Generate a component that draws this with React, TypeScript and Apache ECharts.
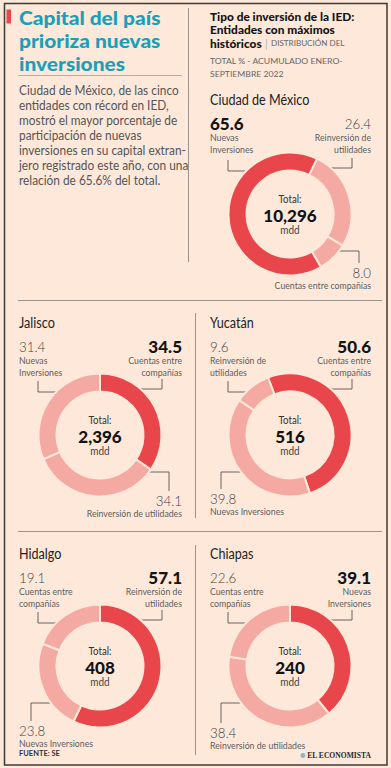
import React, { useEffect, useRef } from "react";
import * as echarts from "echarts";

// ---------- data ----------
const entities = ["Ciudad de México", "Jalisco", "Yucatán", "Hidalgo", "Chiapas"];
const totals = ["10,296", "2,396", "516", "408", "240"];
const categories = ["Nuevas Inversiones", "Reinversión de utilidades", "Cuentas entre compañías"];
const categoryLines = [
  ["Nuevas", "Inversiones"],
  ["Reinversión de", "utilidades"],
  ["Cuentas entre", "compañías"],
];
const nuevas = [65.6, 31.4, 39.8, 23.8, 39.1];
const reinversion = [26.4, 34.1, 9.6, 57.1, 38.4];
const cuentas = [8.0, 34.5, 50.6, 19.1, 22.6];

const titleLines = ["Capital del país", "prioriza nuevas", "inversiones"];
const bodyLines = [
  "Ciudad de México, de las cinco",
  "entidades con récord en IED,",
  "mostró el mayor porcentaje de",
  "participación de nuevas",
  "inversiones en su capital extran-",
  "jero registrado este año, con una",
  "relación de 65.6% del total.",
];
const chartTitle = ["Tipo de inversión de la IED:", "Entidades con máximos", "históricos"];
const chartSub = ["DISTRIBUCIÓN DEL", "TOTAL % - ACUMULADO ENERO-", "SEPTIEMBRE 2022"];
const source = "FUENTE: SE";
const brand = "EL ECONOMISTA";

// slice order (category index) and start angle (deg clockwise from 12 o'clock)
const sliceOrder = [[1, 2, 0], [2, 1, 0], [2, 0, 1], [1, 0, 2], [0, 1, 2]];
const sliceStart = [26, 0, -21, 0, 0];
// label slots per category
const labelSlots = [
  ["TL", "TR", "BR"],
  ["TL", "BR", "TR"],
  ["BL", "TL", "TR"],
  ["BL", "TR", "TL"],
  ["TR", "BL", "TL"],
];

// ---------- layout ----------
const panels = [
  { cx: 290, cy: 214, left: 210, right: 371, titleY: 99, bottom: 58 },
  { cx: 100, cy: 435, left: 19, right: 182, titleY: 322, bottom: 65 },
  { cx: 290, cy: 435, left: 210, right: 371, titleY: 322, bottom: 63 },
  { cx: 100, cy: 666, left: 19, right: 182, titleY: 553, bottom: 64 },
  { cx: 290, cy: 666, left: 210, right: 371, titleY: 553, bottom: 66 },
];

const BG = "#fde8d9";
const RED = "#e8464b";
const PINK = "#f4aaa2";
const TEAL = "#1a9fb9";
const FONT = "Lato";
const LINE = "#9c938c";

function T(x: number, y: number, text: string, o: any = {}) {
  return {
    type: "text",
    x,
    y,
    scaleX: o.sx ?? 1,
    silent: true,
    style: {
      text,
      x: 0,
      y: 0,
      fill: o.fill ?? "#555",
      fontSize: o.size ?? 10,
      fontWeight: o.weight ?? 400,
      fontFamily: o.family ?? FONT,
      align: o.align ?? "left",
      verticalAlign: o.va ?? "middle",
      lineHeight: o.lh,
      rich: o.rich,
    },
  };
}
function L(x1: number, y1: number, x2: number, y2: number, stroke = LINE, w = 1) {
  return { type: "line", silent: true, shape: { x1, y1, x2, y2 }, style: { stroke, lineWidth: w } };
}
function P(points: number[][]) {
  return { type: "polyline", silent: true, shape: { points }, style: { stroke: "#555", lineWidth: 0.9, fill: null } };
}

function buildOption() {
  const g: any[] = [];
  // frame
  g.push({ type: "rect", silent: true, shape: { x: 4.5, y: 3.5, width: 382.5, height: 761.5 }, style: { fill: null, stroke: "#3e3a38", lineWidth: 1.5 } });
  g.push({ type: "rect", silent: true, shape: { x: 6.5, y: 9.5, width: 4.5, height: 14 }, style: { fill: RED } });
  // title
  g.push(T(19, 17.5 - 11.4, titleLines.join("\n"), { size: 19, weight: 900, fill: TEAL, lh: 22.8, va: "top", sx: 1.1 }));
  g.push(L(18, 75.5, 182, 75.5, "#b3b0ad", 1));
  g.push(T(19, 90.2 - 7.55, bodyLines.join("\n"), { size: 12.5, fill: "#555", sx: 0.95, lh: 15.1, va: "top" }));
  // dividers
  g.push(L(188.5, 8, 188.5, 262));
  g.push(L(18, 300.5, 382, 300.5));
  g.push(L(195.5, 313, 195.5, 518));
  g.push(L(18, 531.5, 382, 531.5));
  g.push(L(195.5, 545, 195.5, 755));
  // right title (rich)
  const titleRich = {
    b: { fontSize: 11, fontWeight: 900, fill: "#151515", fontFamily: FONT, lineHeight: 13.3 },
    bar: { fontSize: 11, fontWeight: 300, fill: "#8a8a8a", fontFamily: FONT, lineHeight: 13.3 },
    s: { fontSize: 7.5, fontWeight: 400, fill: "#666", fontFamily: FONT, lineHeight: 13.3 },
  };
  const titleText =
    `{b|${chartTitle[0]}}\n{b|${chartTitle[1]}}\n{b|${chartTitle[2]}}{bar| | }{s|${chartSub[0]}}`;
  g.push(T(210, 16.7 - 6.65, titleText, { rich: titleRich, va: "top", sx: 1.08 }));
  g.push(T(210, 61.3 - 6.35, `${chartSub[1]}\n${chartSub[2]}`, { size: 8, fill: "#666", sx: 1.08, lh: 12.7, va: "top" }));

  const series: any[] = [];
  entities.forEach((name, i) => {
    const p = panels[i];
    const vals = [nuevas[i], reinversion[i], cuentas[i]];
    const maxIdx = vals.indexOf(Math.max(...vals));
    g.push(T(p.left, p.titleY, name, { size: 15, fill: "#222", sx: 0.84, lh: 16 }));
    // center
    g.push(T(p.cx, p.cy - 15, "Total:", { size: 10.5, fill: "#333", align: "center", sx: 0.92, lh: 12 }));
    g.push(T(p.cx, p.cy + 1, totals[i], { size: 17, weight: 900, fill: "#141414", align: "center", lh: 16 }));
    g.push(T(p.cx, p.cy + 16, "mdd", { size: 10.5, fill: "#444", align: "center", sx: 0.95, lh: 12 }));
    vals.forEach((v, c) => {
      const slot = labelSlots[i][c];
      const bold = c === maxIdx;
      const vstyle = bold
        ? { size: 17, weight: 900, fill: "#141414", lh: 14 }
        : { size: 14.5, weight: 300, fill: "#444", sx: 0.92, lh: 14 };
      const catStyle = { size: 9.5, fill: "#5e5e5e", sx: 0.92 };
      const { cx, cy } = p;
      if (slot === "TL" || slot === "TR") {
        const x = slot === "TL" ? p.left : p.right;
        const align = slot === "TL" ? "left" : "right";
        g.push(T(x, p.titleY + 24, v.toFixed(1), { ...vstyle, align }));
        g.push(T(x, p.titleY + 32, categoryLines[c].join("\n"), { ...catStyle, align, lh: 12, va: "top" }));
        if (slot === "TL") g.push(P([[cx - 62, cy - 54], [cx - 62, cy - 43], [cx - 42, cy - 43]]));
        else g.push(P([[cx + 38, cy - 46], [cx + 62, cy - 46], [cx + 62, cy - 56]]));
      } else {
        const x = slot === "BL" ? p.left : p.right;
        const align = slot === "BL" ? "left" : "right";
        const vy = cy + p.bottom;
        g.push(T(x, vy, v.toFixed(1), { ...vstyle, align, lh: 13 }));
        g.push(T(x, vy + 13, categories[c], { ...catStyle, align, lh: 12 }));
        if (slot === "BR") g.push(P([[cx + 43, cy + 37], [cx + 69, cy + 37], [cx + 69, vy - 9]]));
        else g.push(P([[cx - 43, cy + 37], [cx - 69, cy + 37], [cx - 69, vy - 9]]));
      }
    });
    series.push({
      type: "pie",
      name,
      center: [p.cx, p.cy],
      radius: [43.5, 61.5],
      startAngle: 90 - sliceStart[i],
      clockwise: true,
      silent: true,
      avoidLabelOverlap: false,
      label: { show: false },
      labelLine: { show: false },
      emphasis: { disabled: true },
      itemStyle: { borderColor: BG, borderWidth: 2 },
      data: sliceOrder[i].map((c) => ({
        name: categories[c],
        value: vals[c],
        itemStyle: { color: c === maxIdx ? RED : PINK },
      })),
      z: 1,
    });
  });

  g.push(T(19, 753.5, source, { size: 7.5, weight: 700, fill: "#333", lh: 9 }));
  g.push({ type: "circle", silent: true, shape: { cx: 303, cy: 755.5, r: 2.5 }, style: { fill: "#8fb7c9" } });
  g.push(T(371, 755.5, brand, { size: 8, weight: 700, fill: "#2a2a2a", align: "right", family: "Liberation Serif", sx: 0.95, lh: 9 }));

  return {
    backgroundColor: BG,
    animation: false,
    series,
    graphic: { elements: g },
  };
}

export default function App() {
  const ref = useRef<HTMLDivElement>(null);
  useEffect(() => {
    const chart = echarts.init(ref.current!, undefined, { renderer: "svg" });
    chart.setOption(buildOption() as any);
    return () => chart.dispose();
  }, []);
  return <div ref={ref} style={{ position: "absolute", left: 0, top: 0, width: 391, height: 768 }} />;
}
